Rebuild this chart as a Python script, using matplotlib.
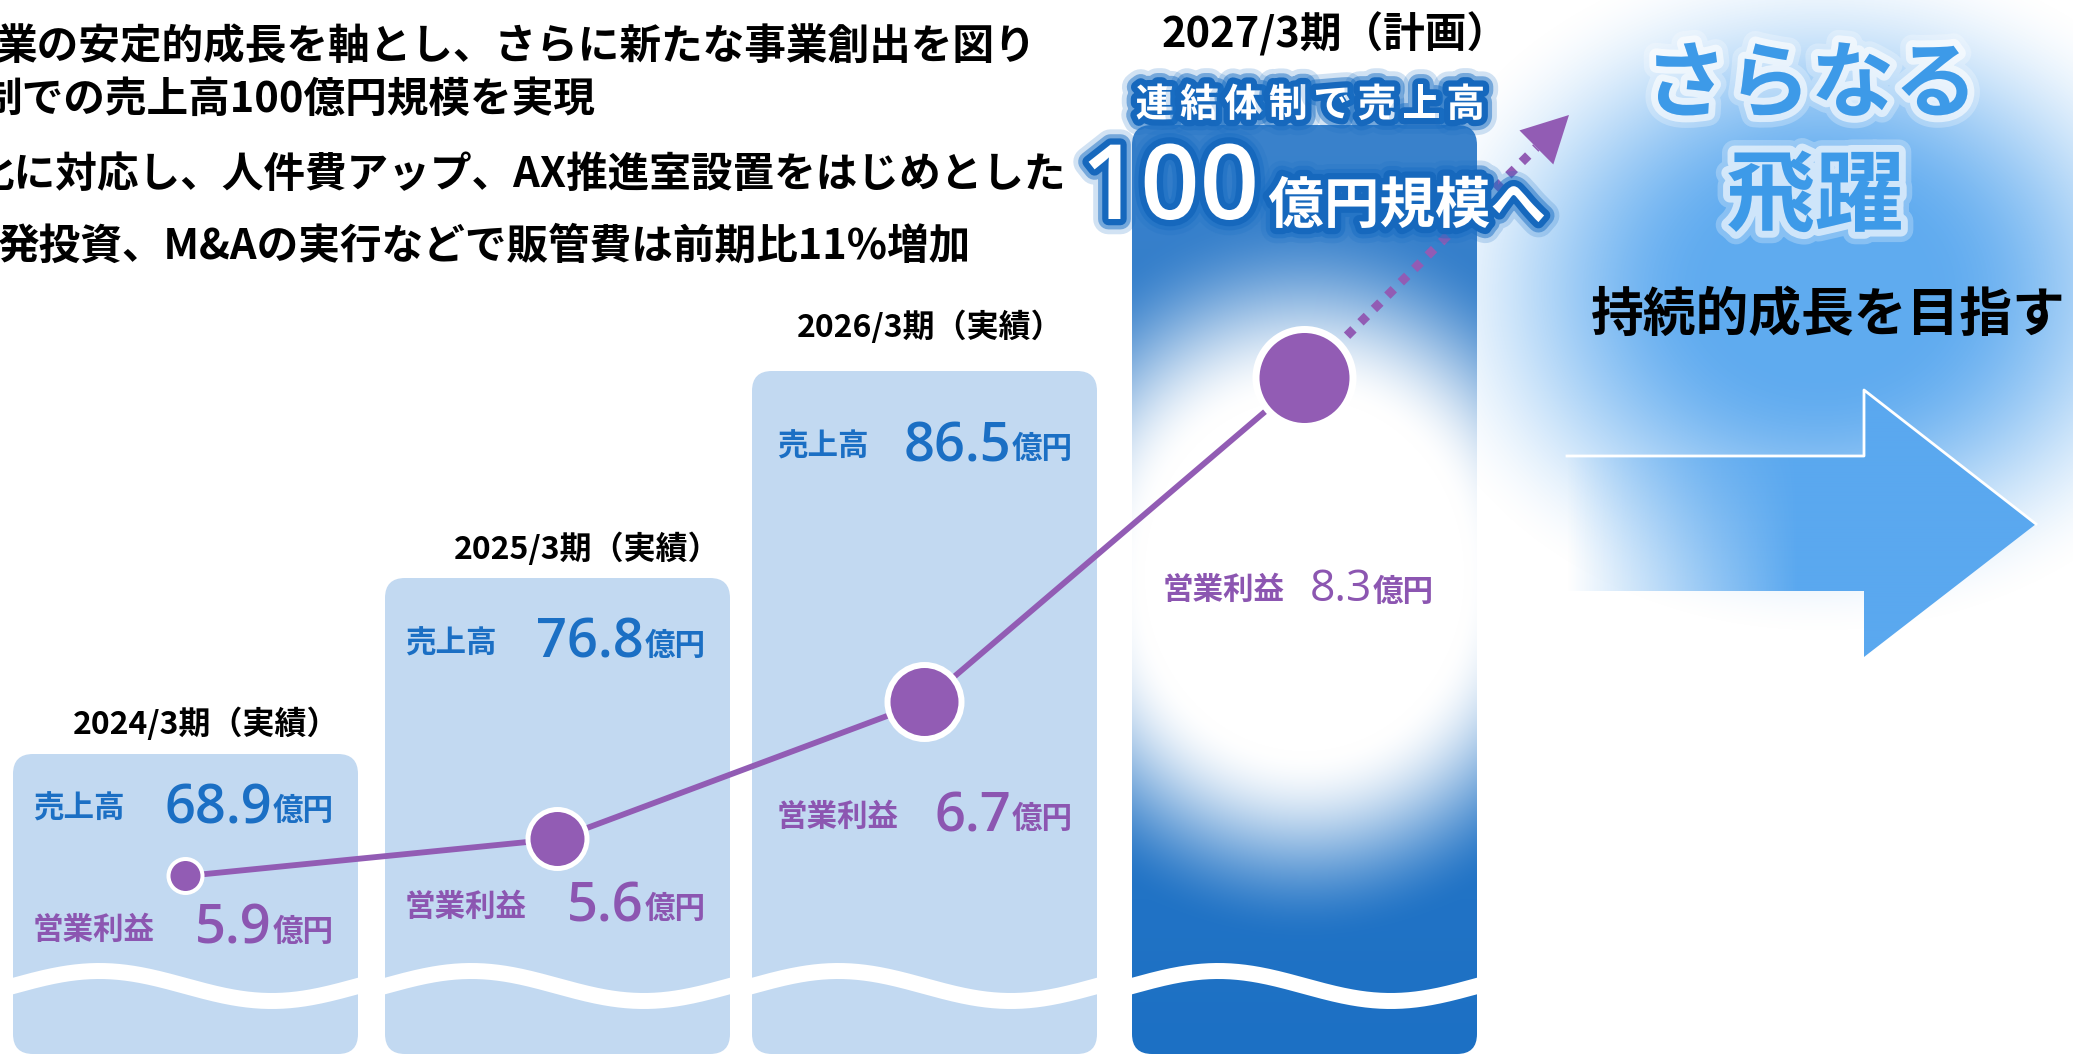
import numpy as np
import matplotlib.pyplot as plt
import matplotlib.patheffects as pe
from matplotlib.patches import FancyBboxPatch, Polygon
from matplotlib.colors import to_rgb

plt.rcParams['font.family'] = ['Noto Sans CJK JP', 'DejaVu Sans']
NUMFONT = ['Open Sans', 'Noto Sans CJK JP']

# データ
periods = ['2024/3期（実績）', '2025/3期（実績）', '2026/3期（実績）', '2027/3期（計画）']
sales = [68.9, 76.8, 86.5, 100]      # 売上高(億円)
op_profit = [5.9, 5.6, 6.7, 8.3]     # 営業利益(億円)
notes = ['業の安定的成長を軸とし、さらに新たな事業創出を図り',
         '制での売上高100億円規模を実現',
         '化に対応し、人件費アップ、AX推進室設置をはじめとした',
         '発投資、M&Aの実行などで販管費は前期比11%増加']
headline = '連結体制で売上高'
goal_lines = ['さらなる', '飛躍', '持続的成長を目指す']

# レイアウト(ピクセル)
W, H = 2073, 1056
panel_left = [13, 385, 752, 1132]
panel_top = [754, 578, 371, 125]
panel_w = 345
panel_bottom = 1054
title_xy = [(206, 724), (587, 549), (930, 327), (1335, 34)]
sales_y = [809, 644, 447]
op_y = [930, 907, 817, 590]
dot_y = [876, 839, 702, 378]
dot_d = [34, 59, 74, 97]
dot_edge = [4, 5, 6, 7]
arrow_tip = (1569, 115)

BLUE = '#1b6fc4'
PURPLE = '#8c56b1'
LINE = '#925cb4'
PANEL = '#c2d9f1'
px = 0.72  # px -> pt

fig = plt.figure(figsize=(W / 100, H / 100), dpi=100)
ax = fig.add_axes([0, 0, 1, 1])

# 右側の青いグロー
yy, xx = np.mgrid[0:H, 0:W].astype(np.float32) + 0.5
r = np.sqrt(((xx - 1820) / 430) ** 2 + ((yy - 290) / 350) ** 2)
s = np.clip((1 - r) / 0.75, 0, 1)
glow = np.zeros((H, W, 4), dtype=np.float32)
glow[..., :3] = to_rgb('#5aa8ef')
glow[..., 3] = 0.97 * s * s * (3 - 2 * s)
ax.imshow(glow, extent=(0, W, H, 0), zorder=0, interpolation='bilinear')

# パネル
patches = []
for i in range(4):
    p = FancyBboxPatch((panel_left[i], panel_top[i]), panel_w, panel_bottom - panel_top[i],
                       boxstyle='round,pad=0,rounding_size=20',
                       facecolor=PANEL if i < 3 else 'none', edgecolor='none', zorder=1)
    ax.add_patch(p)
    patches.append(p)

# 2027パネルのグラデーション
x0, x1, y0 = panel_left[3], panel_left[3] + panel_w, panel_top[3]
gy, gx = np.mgrid[y0:panel_bottom, x0:x1].astype(float) + 0.5
t = ((gy - y0) / (panel_bottom - y0))[..., None]
base = (1 - t) * np.array(to_rgb('#3a82cc')) + t * np.array(to_rgb('#1c70c4'))
rr = np.sqrt(((gx - (x0 + x1) / 2) / 290) ** 2 + ((gy - 575) / 320) ** 2)
w = np.clip(1 - (rr - 0.55) / 0.6, 0, 1)
w = (w * w * (3 - 2 * w))[..., None]
img = base * (1 - w) + w
im = ax.imshow(img, extent=(x0, x1, panel_bottom, y0), zorder=1, interpolation='bilinear')
im.set_clip_path(patches[3])

# 波
for i in range(4):
    wx = np.linspace(panel_left[i] - 5, panel_left[i] + panel_w + 5, 200)
    wy = 986 - 15 * np.sin(2 * np.pi * (wx - panel_left[i]) / panel_w)
    ln, = ax.plot(wx, wy, color='white', lw=16 * px, zorder=2, solid_capstyle='butt')
    ln.set_clip_path(patches[i])

# 大きな矢印
arrow = [(1567, 456), (1864, 456), (1864, 390), (2036, 524), (1864, 657), (1864, 591), (1567, 591)]
arr_poly = Polygon(arrow, closed=True, facecolor='none', edgecolor='none', zorder=2)
ax.add_patch(arr_poly)
ag = np.zeros((10, 480, 4))
ag[..., :3] = to_rgb('#5aa8ef')
ramp = np.clip((np.linspace(1567, 2047, 480) - 1567) / 230, 0, 1)
ag[..., 3] = ramp[None, :]
aim = ax.imshow(ag, extent=(1567, 2047, 660, 385), zorder=2, interpolation='bilinear', aspect='auto')
aim.set_clip_path(arr_poly)
ax.plot([1567, 1864, 1864, 2036], [456, 456, 390, 524], color='white', lw=2, zorder=2)

# 営業利益の折れ線
cx = [l + panel_w / 2 for l in panel_left]
ax.plot(cx, dot_y, color=LINE, lw=4.2, zorder=3, solid_capstyle='butt')
ax.scatter(cx, dot_y, s=[(d * px) ** 2 for d in dot_d], c=LINE, edgecolors='white',
           linewidths=[e * px for e in dot_edge], zorder=4)

# 点線の矢印
d = np.array(arrow_tip) - np.array([cx[3], dot_y[3]])
d = d / np.hypot(*d)
start = np.array([cx[3], dot_y[3]]) + d * 60
base_mid = np.array(arrow_tip) - d * 46
ax.plot([start[0], base_mid[0]], [start[1], base_mid[1]], color=LINE, lw=6.5,
        linestyle=(0, (1, 1.1)), dash_capstyle='butt', zorder=3)
perp = np.array([-d[1], d[0]])
ax.add_patch(Polygon([arrow_tip, base_mid + perp * 24, base_mid - perp * 24],
                     closed=True, facecolor=LINE, edgecolor='none', zorder=3))

# 期のタイトル
for i, lab in enumerate(periods):
    ax.text(title_xy[i][0], title_xy[i][1], lab, fontsize=30 if i == 3 else 23,
            fontweight='bold', ha='center', va='center', color='black', zorder=5)

# 売上高・営業利益のラベル
for i in range(3):
    lx = panel_left[i] + (25 if i == 2 else 20)
    rx = panel_left[i] + panel_w - 24
    ax.text(lx, sales_y[i], '売上高', fontsize=22, fontweight='bold', color=BLUE,
            ha='left', va='center', zorder=5)
    ax.text(rx, sales_y[i] + 2, '億円', fontsize=22, fontweight='bold', color=BLUE,
            ha='right', va='center', zorder=5)
    ax.text(rx - 62, sales_y[i], f'{sales[i]:.1f}', fontsize=39, fontweight='semibold', color=BLUE,
            family=NUMFONT, ha='right', va='center', zorder=5)
    ax.text(lx, op_y[i], '営業利益', fontsize=22, fontweight='bold', color=PURPLE,
            ha='left', va='center', zorder=5)
    ax.text(rx, op_y[i] + 2, '億円', fontsize=22, fontweight='bold', color=PURPLE,
            ha='right', va='center', zorder=5)
    ax.text(rx - 62, op_y[i], f'{op_profit[i]:.1f}', fontsize=39, fontweight='semibold', color=PURPLE,
            family=NUMFONT, ha='right', va='center', zorder=5)

ax.text(1163, op_y[3], '営業利益', fontsize=22, fontweight='bold', color=PURPLE,
        ha='left', va='center', zorder=5)
ax.text(1372, op_y[3], f'{op_profit[3]:.1f}', fontsize=32, color=PURPLE, family=NUMFONT,
        ha='right', va='center', zorder=5)
ax.text(1434, op_y[3] + 2, '億円', fontsize=22, fontweight='bold', color=PURPLE,
        ha='right', va='center', zorder=5)

# 2027の見出し
glow_blue = [pe.Stroke(linewidth=22, foreground=BLUE, alpha=0.2),
             pe.Stroke(linewidth=15, foreground=BLUE, alpha=0.5),
             pe.Stroke(linewidth=9, foreground='#1668bd'), pe.Normal()]
for k, ch in enumerate(headline):
    ax.text(1133 + 22 + 44.4 * k, 105, ch, fontsize=28, fontweight='bold', color='white',
            ha='center', va='center', path_effects=glow_blue, zorder=6)
ax.text(1170, 192, f'{sales[3]:d}', fontsize=75, fontweight='semibold', color='white',
        family=NUMFONT, ha='center', va='center', path_effects=glow_blue, zorder=6)
ax.text(1407, 207, '億円規模へ', fontsize=40, fontweight='bold', color='white',
        ha='center', va='center', path_effects=glow_blue, zorder=6)

# 右側のメッセージ
glow_white = [pe.Stroke(linewidth=18, foreground='white', alpha=0.25),
              pe.Stroke(linewidth=10, foreground='white', alpha=0.6), pe.Normal()]
ax.text(1811, 86, goal_lines[0], fontsize=60, fontweight='bold', color='#3d9ae8', ha='center',
        va='center', path_effects=glow_white, zorder=6)
ax.text(1815, 198, goal_lines[1], fontsize=64, fontweight='bold', color='#3d9ae8', ha='center',
        va='center', path_effects=glow_white, zorder=6)
ax.text(1828, 315, goal_lines[2], fontsize=38, fontweight='bold', color='black', ha='center',
        va='center', zorder=6)

# 左上の説明文
for txt, nx, ny in zip(notes, [-4, -20, -27, -3], [47, 100, 175, 247]):
    ax.text(nx, ny, txt, fontsize=30, fontweight='bold', color='black', ha='left', va='center', zorder=6)

ax.set_xlim(0, W)
ax.set_ylim(H, 0)
ax.axis('off')
plt.savefig('out.png', dpi=100)
